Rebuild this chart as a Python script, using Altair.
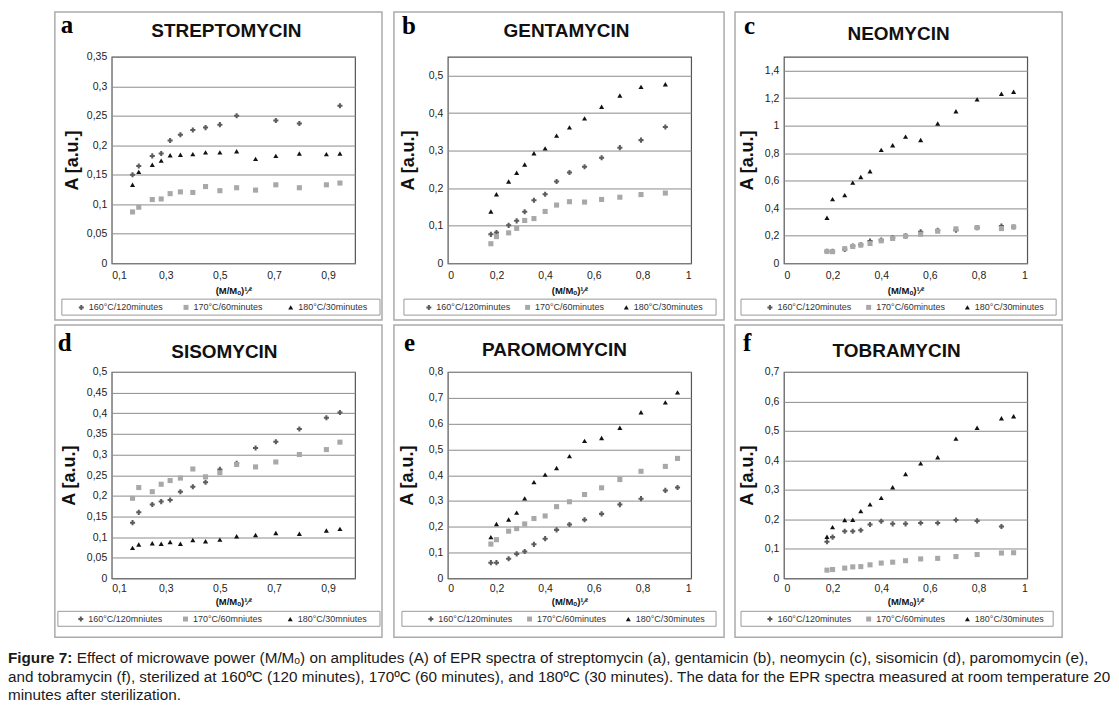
import altair as alt
import pandas as pd

# ---------------- data ----------------
X = [0.177, 0.2, 0.25, 0.283, 0.316, 0.354, 0.4, 0.447, 0.5, 0.562, 0.632, 0.707, 0.794, 0.894, 0.944]

LABELS = ["160°C/120minutes", "170°C/60minutes", "180°C/30minutes"]
LABELS_D = ["160°C/120mniutes", "170°C/60mniutes", "180°C/30mniutes"]

a160 = [0.150, 0.165, 0.182, 0.186, 0.208, 0.218, 0.226, 0.230, 0.235, 0.250, None, 0.242, 0.237, None, 0.267]
a170 = [0.087, 0.095, 0.108, 0.109, 0.118, 0.121, 0.120, 0.130, 0.123, 0.128, 0.124, 0.133, 0.128, 0.133, 0.136]
a180 = [0.133, 0.155, 0.167, 0.174, 0.183, 0.184, 0.185, 0.188, 0.188, 0.190, 0.177, 0.182, 0.186, 0.185, 0.186]

b160 = [0.077, 0.082, 0.101, 0.113, 0.137, 0.168, 0.184, 0.218, 0.242, 0.257, 0.281, 0.308, 0.328, 0.363, None]
b170 = [0.052, 0.071, 0.081, 0.093, 0.114, 0.119, 0.138, 0.155, 0.164, 0.163, 0.170, 0.176, 0.183, 0.187, None]
b180 = [0.138, 0.184, 0.218, 0.241, 0.263, 0.293, 0.306, 0.340, 0.362, 0.386, 0.417, 0.447, 0.470, 0.477, None]

c160 = [0.086, 0.086, 0.100, 0.125, 0.134, 0.161, 0.168, 0.185, 0.199, 0.228, 0.240, 0.240, 0.259, 0.271, 0.264]
c170 = [0.086, 0.084, 0.106, 0.122, 0.132, 0.144, 0.163, 0.180, 0.197, 0.211, 0.233, 0.250, 0.259, 0.252, 0.264]
c180 = [0.331, 0.466, 0.495, 0.586, 0.627, 0.668, 0.824, 0.857, 0.920, 0.896, 1.016, 1.105, 1.191, 1.232, 1.246]

d160 = [0.135, 0.160, 0.179, 0.186, 0.190, 0.210, 0.222, 0.233, 0.264, 0.279, 0.316, 0.331, 0.362, 0.389, 0.402]
d170 = [0.194, 0.220, 0.210, 0.228, 0.237, 0.243, 0.265, 0.246, 0.256, 0.276, 0.270, 0.282, 0.300, 0.312, 0.330]
d180 = [0.074, 0.082, 0.085, 0.084, 0.088, 0.084, 0.093, 0.090, 0.094, 0.102, 0.105, 0.110, 0.108, 0.116, 0.120]

e160 = [0.061, 0.061, 0.076, 0.095, 0.104, 0.132, 0.154, 0.188, 0.209, 0.227, 0.250, 0.286, 0.309, 0.341, 0.352]
e170 = [0.133, 0.150, 0.183, 0.193, 0.211, 0.232, 0.242, 0.278, 0.297, 0.325, 0.351, 0.383, 0.415, 0.434, 0.465]
e180 = [0.160, 0.211, 0.228, 0.255, 0.310, 0.373, 0.402, 0.428, 0.474, 0.533, 0.544, 0.584, 0.644, 0.682, 0.721]

f160 = [0.124, 0.140, 0.160, 0.160, 0.163, 0.183, 0.194, 0.185, 0.185, 0.188, 0.188, 0.198, 0.195, 0.176, None]
f170 = [0.028, 0.030, 0.035, 0.039, 0.040, 0.046, 0.052, 0.055, 0.060, 0.066, 0.068, 0.074, 0.081, 0.086, 0.087]
f180 = [0.141, 0.174, 0.198, 0.199, 0.228, 0.251, 0.273, 0.309, 0.354, 0.390, 0.411, 0.474, 0.511, 0.543, 0.550]

TITLES = ["STREPTOMYCIN", "GENTAMYCIN", "NEOMYCIN", "SISOMYCIN", "PAROMOMYCIN", "TOBRAMYCIN"]
LETTERS = ["a", "b", "c", "d", "e", "f"]

XT_A = [0.1, 0.3, 0.5, 0.7, 0.9]
XT_B = [0, 0.2, 0.4, 0.6, 0.8, 1]
YT_A = [0, 0.05, 0.1, 0.15, 0.2, 0.25, 0.3, 0.35]
YT_B = [0, 0.1, 0.2, 0.3, 0.4, 0.5]
YT_C = [0, 0.2, 0.4, 0.6, 0.8, 1, 1.2, 1.4]
YT_D = [0, 0.05, 0.1, 0.15, 0.2, 0.25, 0.3, 0.35, 0.4, 0.45, 0.5]
YT_E = [0, 0.1, 0.2, 0.3, 0.4, 0.5, 0.6, 0.7, 0.8]
YT_F = [0, 0.1, 0.2, 0.3, 0.4, 0.5, 0.6, 0.7]

CAPTION_BOLD = "Figure 7:"
CAPTION_1 = ("Effect of microwave power (M/M\u2092) on amplitudes (A) of EPR spectra of streptomycin (a), "
             "gentamicin (b), neomycin (c), sisomicin (d), paromomycin (e),")
CAPTION_2 = ("and tobramycin (f), sterilized at 160ºC (120 minutes), 170ºC (60 minutes), and 180ºC "
             "(30 minutes). The data for the EPR spectra measured at room temperature 20")
CAPTION_3 = "minutes after sterilization."

# ---------------- styling ----------------
W, H = 244, 207
FONT = "Liberation Sans"
COLORS = ["#5c5c5c", "#a8a8a8", "#111111"]
SHAPES = ["cross", "square", "triangle-up"]
EXPR = "replace(format(datum.value, '.2~f'), '.', ',')"
ONE = pd.DataFrame({"k": [0]})

PANELS = [
    dict(series=[a160, a170, a180], labels=LABELS, xdom=[0.1, 1.0], xt=XT_A, ydom=[0, 0.35], yt=YT_A,
         frame=(-57, 271, -45, 264), legbox=(-50, 269, 243, 259), legx=-35, legy=246.5, cp=18,
         letter=(-51, -24), title=(115, -26), ytx=-39, xlp=7, xty=27),
    dict(series=[b160, b170, b180], labels=LABELS, xdom=[0, 1], xt=XT_B, ydom=[0, 0.55], yt=YT_B,
         frame=(-54, 277, -45, 264), legbox=(-44, 269, 243, 259), legx=-23.5, legy=246.5, cp=12,
         letter=(-46, -23), title=(119, -26), ytx=-39, xlp=7, xty=27),
    dict(series=[c160, c170, c180], labels=LABELS, xdom=[0, 1], xt=XT_B, ydom=[0, 1.5], yt=YT_C,
         frame=(-49, 279, -45, 264), legbox=(-43, 273, 243, 259), legx=-18.5, legy=246.5, cp=12,
         letter=(-40, -23), title=(115, -23), ytx=-36, xlp=7, xty=27),
    dict(series=[d160, d170, d180], labels=LABELS_D, xdom=[0.1, 1.0], xt=XT_A, ydom=[0, 0.5], yt=YT_D,
         frame=(-57, 271, -47, 266), legbox=(-54, 269, 240, 255), legx=-35.5, legy=243, cp=18,
         letter=(-54, -21), title=(113, -20), ytx=-42, xlp=5, xty=23),
    dict(series=[e160, e170, e180], labels=LABELS, xdom=[0, 1], xt=XT_B, ydom=[0, 0.8], yt=YT_E,
         frame=(-54, 277, -47, 266), legbox=(-46, 269, 240, 255), legx=-21.5, legy=243, cp=12,
         letter=(-44, -21), title=(107, -22), ytx=-40, xlp=5, xty=23),
    dict(series=[f160, f170, f180], labels=LABELS, xdom=[0, 1], xt=XT_B, ydom=[0, 0.7], yt=YT_F,
         frame=(-49, 279, -47, 266), legbox=(-43, 270, 240, 255), legx=-18.5, legy=243, cp=12,
         letter=(-41, -21), title=(113, -21), ytx=-36, xlp=5, xty=23),
]


def make_panel(i, cfg):
    rows = []
    for lab, vals in zip(cfg["labels"], cfg["series"]):
        for xv, yv in zip(X, vals):
            if yv is not None:
                rows.append({"x": xv, "A": yv, "series": lab})
    df = pd.DataFrame(rows)

    fx0, fx1, fy0, fy1 = cfg["frame"]
    frame = alt.Chart(ONE).mark_rect(fillOpacity=0, stroke="#ababab", strokeWidth=1.5).encode(
        x=alt.value(fx0), x2=alt.value(fx1), y=alt.value(fy0), y2=alt.value(fy1))
    lx0, lx1, ly0, ly1 = cfg["legbox"]
    legbox = alt.Chart(ONE).mark_rect(fillOpacity=0, stroke="#9a9a9a", strokeWidth=1).encode(
        x=alt.value(lx0), x2=alt.value(lx1), y=alt.value(ly0), y2=alt.value(ly1))

    leg = alt.Legend(orient="none", legendX=cfg["legx"], legendY=cfg["legy"], direction="horizontal",
                     columns=3, title=None, labelFont=FONT, labelFontSize=9, labelColor="#333333",
                     symbolSize=25, symbolStrokeWidth=0, labelOffset=3, columnPadding=cfg["cp"],
                     padding=0, gridAlign="all")

    pts = alt.Chart(df).mark_point(filled=True, size=26, opacity=1).encode(
        x=alt.X("x:Q", scale=alt.Scale(domain=cfg["xdom"], nice=False, zero=False),
                axis=alt.Axis(values=cfg["xt"], title="(M/M\u2092)\u00b9\u2044\u00b2", grid=False, ticks=False,
                              domain=False, labelExpr=EXPR, labelFont=FONT, labelFontSize=10.5,
                              labelColor="#222222", labelPadding=cfg["xlp"], titleFont=FONT,
                              titleFontSize=9.5, titleFontWeight="bold", titleColor="#111111",
                              titleY=cfg["xty"], titleBaseline="middle")),
        y=alt.Y("A:Q", scale=alt.Scale(domain=cfg["ydom"], nice=False, zero=True),
                axis=alt.Axis(values=cfg["yt"], title="A [a.u.]", grid=True, gridColor="#8c8c8c",
                              gridWidth=1, ticks=False, domain=False, labelExpr=EXPR, labelFont=FONT,
                              labelFontSize=10.5, labelColor="#222222", labelPadding=5,
                              titleFont=FONT, titleFontSize=18, titleFontWeight="bold",
                              titleColor="#111111", titleX=cfg["ytx"], titleY=H / 2, titleAngle=270,
                              titleAlign="center", titleBaseline="middle")),
        color=alt.Color("series:N", scale=alt.Scale(domain=cfg["labels"], range=COLORS), legend=leg),
        shape=alt.Shape("series:N", scale=alt.Scale(domain=cfg["labels"], range=SHAPES), legend=leg),
    )

    tx, ty = cfg["title"]
    title = alt.Chart(ONE).mark_text(font=FONT, fontSize=19, fontWeight="bold", color="#111111",
                                     align="center", baseline="middle").encode(
        x=alt.value(tx), y=alt.value(ty), text=alt.value(TITLES[i]))
    lxp, lyp = cfg["letter"]
    letter = alt.Chart(ONE).mark_text(font="Liberation Serif", fontSize=25, fontWeight="bold",
                                      color="#000000", align="left", baseline="alphabetic").encode(
        x=alt.value(lxp), y=alt.value(lyp), text=alt.value(LETTERS[i]))

    return alt.layer(frame, legbox, pts, title, letter).properties(width=W, height=H)


panels = [make_panel(i, c) for i, c in enumerate(PANELS)]

cap_style = dict(font=FONT, fontSize=15.3, color="#1a1a1a", align="left", baseline="alphabetic")
caption = alt.layer(
    alt.Chart(ONE).mark_text(fontWeight="bold", **cap_style).encode(
        x=alt.value(-104), y=alt.value(-24), text=alt.value(CAPTION_BOLD)),
    alt.Chart(ONE).mark_text(**cap_style).encode(
        x=alt.value(-35), y=alt.value(-24), text=alt.value(CAPTION_1)),
    alt.Chart(ONE).mark_text(**cap_style).encode(
        x=alt.value(-104), y=alt.value(-5), text=alt.value(CAPTION_2)),
    alt.Chart(ONE).mark_text(**cap_style).encode(
        x=alt.value(-104), y=alt.value(13), text=alt.value(CAPTION_3)),
).properties(width=W, height=1, view=alt.ViewBackground(strokeOpacity=0))

chart = alt.concat(
    *panels, caption, columns=3, spacing={"row": 109, "column": 93}, bounds="flush"
).resolve_scale(
    color="independent", shape="independent", x="independent", y="independent"
).properties(
    padding={"left": 0, "top": 1, "right": 0, "bottom": 0}, background="white"
).configure_view(stroke="#555555", strokeWidth=1.2)

chart.save("out.html", embed_options={"renderer": "svg", "actions": False})
